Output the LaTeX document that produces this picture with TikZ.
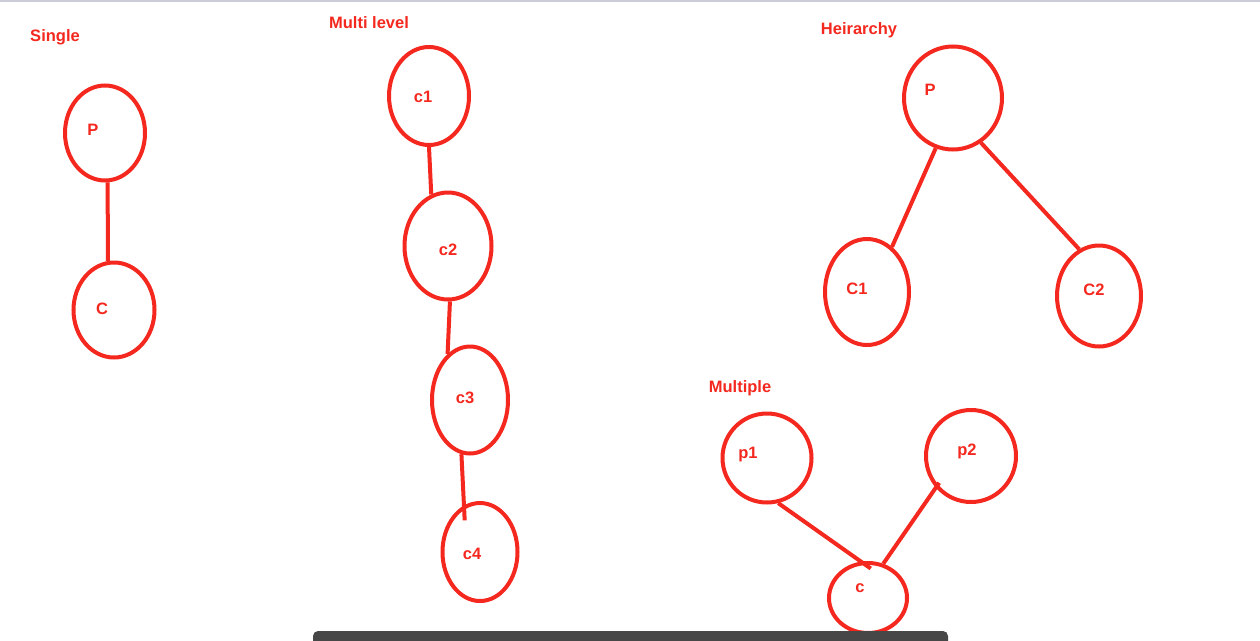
\documentclass[tikz,border=0pt]{standalone}
\usepackage{fontspec}
\setmainfont{Liberation Sans}
\usetikzlibrary{shapes.geometric, positioning}
\definecolor{pen}{RGB}{244,40,30}
\tikzset{
    x=1pt, y=-1pt,
    blob/.style={ellipse, draw=pen, line width=4pt, inner sep=0pt},
    link/.style={draw=pen, line width=4pt},
    tag/.style={text=pen, inner sep=0pt, font=\bfseries\fontsize{16.5}{16.5}\selectfont},
    heading/.style={text=pen, inner sep=0pt, font=\bfseries\fontsize{16.5}{16.5}\selectfont},
}

\begin{document}
\begin{tikzpicture}

\useasboundingbox (0,0) rectangle (1260,640);
\fill[white] (0,0) rectangle (1260,640);
\fill[blue!15!gray!35] (0,0) rectangle (1260,1.5);

% single
\node[heading] (tSingle) at (55,37) {Single};
\node[blob, minimum width=80, minimum height=95] (sP) at (105,133) {};
\node[blob, minimum width=81, minimum height=95] (sC) at (114,310) {};
\node[tag] at (93,130) {P};
\node[tag] at (102,309) {C};
\draw[link] (sP.273) -- (sC.97);

% multi level
\node[heading] (tMulti) at (369,23) {Multi level};
\node[blob, minimum width=80, minimum height=98] (c1) at (429,96) {};
\node[blob, minimum width=87, minimum height=107] (c2) at (448,246) {};
\node[blob, minimum width=76, minimum height=107] (c3) at (470,400) {};
\node[blob, minimum width=75, minimum height=98] (c4) at (480,552) {};
\node[tag] at (423,97) {c1};
\node[tag] at (448,250) {c2};
\node[tag] at (465,398) {c3};
\node[tag] at (472,554) {c4};
\draw[link] (c1.south) -- (c2.108);
\draw[link] (c2.272) -- (c3.116);
\draw[link, shorten >=-15pt] (c3.261) -- (c4.109);

% heirarchy
\node[heading] (tHeir) at (859,30) {Heirarchy};
\node[blob, minimum width=98, minimum height=103] (hP) at (953,98) {};
\node[blob, minimum width=84, minimum height=106] (hC1) at (867,292) {};
\node[blob, minimum width=84, minimum height=101] (hC2) at (1099,296) {};
\node[tag] at (930,90) {P};
\node[tag] at (857,289) {C1};
\node[tag] at (1094,290) {C2};
\draw[link] (hP.251) -- (hC1.61);
\draw[link] (hP.302) -- (hC2.113);

% multiple
\node[heading] (tMult) at (740,388) {Multiple};
\node[blob, minimum width=89, minimum height=89] (mp1) at (767,458) {};
\node[blob, minimum width=90, minimum height=92] (mp2) at (971,456) {};
\node[blob, minimum width=78, minimum height=70] (mc) at (868,598) {};
\node[tag] at (748,455) {p1};
\node[tag] at (967,451) {p2};
\node[tag] at (860,588) {c};
\draw[link, shorten >=-12pt] (mp1.284) -- (mc.101);
\draw[link, shorten <=-6pt] (mp2.222) -- (mc.66);

% scroll bar
\fill[black!72, rounded corners=5] (313,631) rectangle (948,652);

\end{tikzpicture}
\end{document}
